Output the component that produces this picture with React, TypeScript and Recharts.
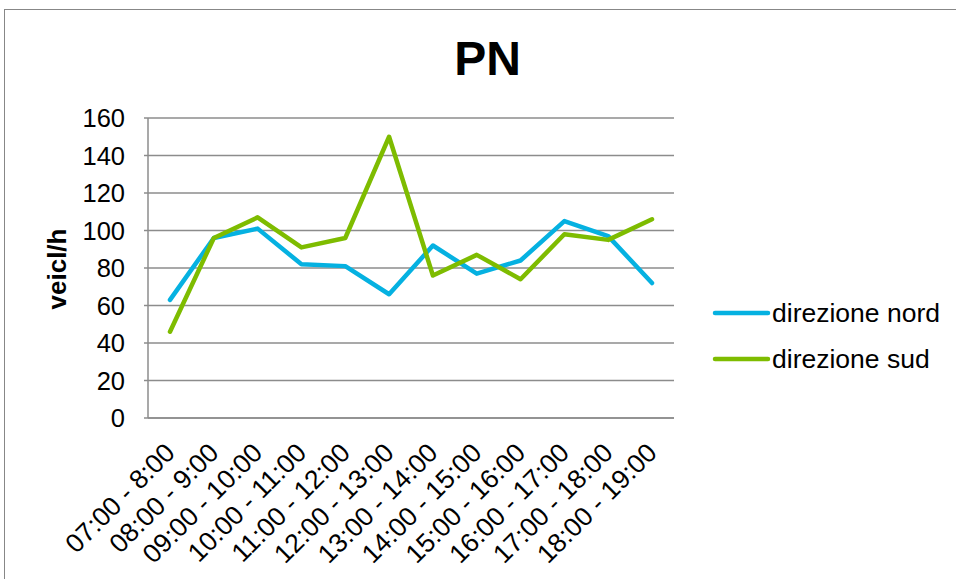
import React from 'react';
import { LineChart, Line, XAxis, YAxis, CartesianGrid, Legend } from 'recharts';

const categories = [
  '07:00 - 8:00', '08:00 - 9:00', '09:00 - 10:00', '10:00 - 11:00',
  '11:00 - 12:00', '12:00 - 13:00', '13:00 - 14:00', '14:00 - 15:00',
  '15:00 - 16:00', '16:00 - 17:00', '17:00 - 18:00', '18:00 - 19:00',
];
const nord = [63, 96, 101, 82, 81, 66, 92, 77, 84, 105, 97, 72];
const sud = [46, 96, 107, 91, 96, 150, 76, 87, 74, 98, 95, 106];
const yTicks = [0, 20, 40, 60, 80, 100, 120, 140, 160];

const data = categories.map((c, i) => ({ name: c, nord: nord[i], sud: sud[i] }));

const FONT = '"Liberation Sans", Arial, sans-serif';
const GRID = '#8c8c8c';
const BLUE = '#05B1E1';
const GREEN = '#7EBC00';

const XTick = (props: any) => {
  const { x, y, payload } = props;
  return (
    <text
      x={x}
      y={y}
      transform={`rotate(-45 ${x} ${y})`}
      textAnchor="end"
      dominantBaseline="central"
      fontSize={26.5}
      fontFamily={FONT}
      fill="#000"
    >
      {payload.value}
    </text>
  );
};

const renderLegend = (props: any) => {
  const { payload } = props;
  return (
    <svg width={260} height={100} style={{ position: 'absolute', left: 714, top: 290, overflow: 'visible' }}>
      {payload.map((p: any, i: number) => (
        <g key={i}>
          <line x1={1} x2={54} y1={23 + i * 46} y2={23 + i * 46} stroke={p.color} strokeWidth={4.5} strokeLinecap="round" />
          <text x={58} y={23 + i * 46} dominantBaseline="central" fontSize={26.5} fontFamily={FONT} fill="#000">
            {p.value}
          </text>
        </g>
      ))}
    </svg>
  );
};

export default function App() {
  return (
    <div style={{ position: 'absolute', left: 0, top: 0, width: 956, height: 579, overflow: 'hidden', background: '#fff' }}>
      <div style={{ position: 'absolute', left: 4, top: 9, width: 1200, height: 1200, border: '1px solid #878787' }} />
      <svg width={956} height={579} style={{ position: 'absolute', left: 0, top: 0 }}>
        <text x={487.5} y={75} textAnchor="middle" fontSize={48} fontWeight="bold" fontFamily={FONT} fill="#000">
          PN
        </text>
        <text
          x={66}
          y={269}
          transform="rotate(-90 66 269)"
          textAnchor="middle"
          fontSize={26}
          fontWeight="bold"
          fontFamily={FONT}
          fill="#000"
        >
          veicl/h
        </text>
      </svg>
      <div style={{ position: 'absolute', left: 0, top: 0 }}>
        <LineChart width={956} height={579} data={data} margin={{ top: 118, right: 282, bottom: 61, left: 0 }}>
          <CartesianGrid vertical={false} stroke={GRID} strokeWidth={1.5} />
          <XAxis
            dataKey="name"
            height={100}
            padding={{ left: 22, right: 22 }}
            axisLine={{ stroke: GRID, strokeWidth: 1.5 }}
            tickLine={false}
            tickSize={0}
            tickMargin={30}
            interval={0}
            tick={<XTick />}
          />
          <YAxis
            width={148}
            domain={[0, 160]}
            ticks={yTicks}
            interval={0}
            axisLine={{ stroke: GRID, strokeWidth: 1.5 }}
            tickLine={{ stroke: GRID, strokeWidth: 1.5 }}
            tickSize={4}
            tickMargin={19}
            tick={{ fill: '#000', fontSize: 25.5, fontFamily: FONT }}
          />
          <Legend content={renderLegend} wrapperStyle={{ left: 0, top: 0, width: 0, height: 0, overflow: 'visible' }} />
          <Line
            type="linear"
            dataKey="nord"
            name="direzione nord"
            stroke={BLUE}
            strokeWidth={4.5}
            strokeLinejoin="round"
            strokeLinecap="round"
            dot={false}
            activeDot={false}
            isAnimationActive={false}
          />
          <Line
            type="linear"
            dataKey="sud"
            name="direzione sud"
            stroke={GREEN}
            strokeWidth={4.5}
            strokeLinejoin="round"
            strokeLinecap="round"
            dot={false}
            activeDot={false}
            isAnimationActive={false}
          />
        </LineChart>
      </div>
    </div>
  );
}
